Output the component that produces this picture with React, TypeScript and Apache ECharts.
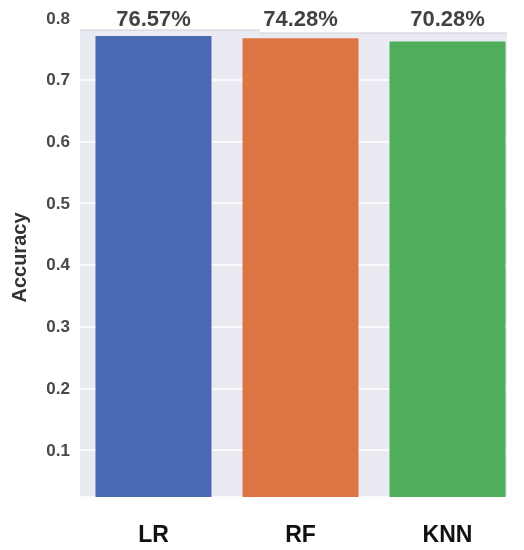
import React, { useEffect, useRef } from "react";
import * as echarts from "echarts";

const categories = ["LR", "RF", "KNN"];
const accuracy = [0.771, 0.767, 0.762];
const labelTexts = ["76.57%", "74.28%", "70.28%"];
const barColors = ["#4a69b4", "#de7443", "#4fad5b"];
const yMin = 0.024;
const yMax = 0.8;

const FONT = "'Liberation Sans', Arial, Helvetica, sans-serif";

export default function App() {
  const ref = useRef<HTMLDivElement>(null);
  useEffect(() => {
    const chart = echarts.init(ref.current!, null, { renderer: "svg" });
    chart.setOption({
      animation: false,
      grid: {
        left: 80,
        right: 3,
        top: 18,
        bottom: 53,
        containLabel: false,
        outerBoundsMode: "none",
        show: true,
        backgroundColor: "#eaeaf2",
        borderWidth: 0,
      },
      xAxis: {
        type: "category",
        data: categories,
        axisLine: { show: false },
        axisTick: { show: false },
        splitLine: { show: false },
        axisLabel: {
          fontSize: 23,
          fontWeight: "bold",
          color: "#111",
          margin: 25,
          fontFamily: FONT,
        },
      },
      yAxis: {
        type: "value",
        min: yMin,
        max: yMax,
        splitNumber: 8,
        name: "Accuracy",
        nameLocation: "middle",
        nameGap: 51,
        nameTextStyle: { fontSize: 20, fontWeight: "bold", color: "#333", fontFamily: FONT },
        axisLine: { show: false },
        axisTick: { show: false },
        axisLabel: {
          showMinLabel: false,
          fontSize: 17,
          fontWeight: "bold",
          color: "#484848",
          margin: 10,
          fontFamily: FONT,
          formatter: (v: number) => v.toFixed(1),
        },
        splitLine: { lineStyle: { color: "#ffffff", width: 1.5 } },
      },
      series: [
        {
          type: "bar",
          data: accuracy.map((v, i) => ({ value: v, itemStyle: { color: barColors[i] } })),
          barWidth: 116,
          z: 2,
        },
        {
          type: "scatter",
          data: labelTexts.map(() => yMax),
          symbolSize: 0,
          clip: false,
          silent: true,
          z: 20,
          label: {
            show: true,
            position: "inside",
            formatter: (p: any) => labelTexts[p.dataIndex],
            fontSize: 22,
            fontWeight: "bold",
            color: "#111111",
            fontFamily: FONT,
          },
        },
      ],
      graphic: [
        { type: "rect", z: 10, shape: { x: 80, y: 0, width: 180, height: 30 }, style: { fill: "#ffffff" } },
        { type: "rect", z: 10, shape: { x: 260, y: 0, width: 264, height: 33 }, style: { fill: "#ffffff" } },
        { type: "rect", z: 10, shape: { x: 507, y: 0, width: 17, height: 550 }, style: { fill: "#ffffff" } },
        { type: "line", z: 11, shape: { x1: 80, y1: 30, x2: 260, y2: 30 }, style: { stroke: "#cfcfd4", lineWidth: 1 } },
        { type: "line", z: 11, shape: { x1: 260, y1: 33, x2: 507, y2: 33 }, style: { stroke: "#cfcfd4", lineWidth: 1 } },
      ],
    });
    return () => chart.dispose();
  }, []);
  return <div ref={ref} style={{ position: "fixed", left: 0, top: 0, width: 524, height: 550 }} />;
}
